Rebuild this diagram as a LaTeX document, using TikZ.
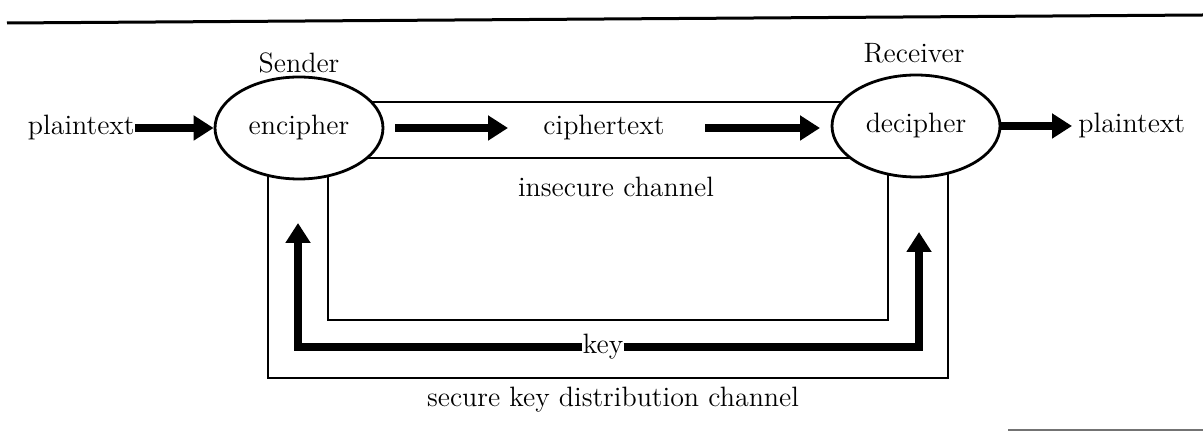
\documentclass[tikz,border=0pt]{standalone}
\usetikzlibrary{arrows.meta,shapes.geometric,backgrounds}
\begin{document}
\begin{tikzpicture}[x=0.5pt,y=-0.5pt,
  every node/.style={font=\fontsize{14}{16}\selectfont},
  lab/.style={inner sep=0pt},
  proc/.style={ellipse,draw,line width=1.4pt,fill=white,inner sep=0pt,minimum width=84pt,minimum height=51pt},
  wire/.style={line width=1.2pt},
  fat/.style={line width=3.8pt,-{Triangle[length=10pt,width=12pt]}},
  rule/.style={line width=1.5pt}]
\useasboundingbox (0,0) rectangle (1203,432);
\draw[rule] (7,23) -- (1203,15);
\draw[line width=1pt,black!55] (1008,430) -- (1203,430);

\node[proc] (enc) at (299,128) {encipher};
\node[proc] (dec) at (916,126) {decipher};
\node[lab] (send) at (299,63) {Sender};
\node[lab] (recv) at (914,53) {Receiver};
\node[lab,anchor=east] (pin) at (135,128) {plaintext};
\node[lab,anchor=west] (pout) at (1078,126) {plaintext};
\node[lab] (ct) at (604,128) {ciphertext};
\node[lab] (ins) at (616,187) {insecure channel};
\node[lab] (key) at (603,347) {key};
\node[lab] (sec) at (613,400) {secure key distribution channel};

\coordinate (a1s) at (395,128);
\coordinate (a1e) at (508,128);
\coordinate (a2s) at (705,128);
\coordinate (a2e) at (820,128);
\coordinate (kl) at (298,223);
\coordinate (kr) at (919,232);

\begin{scope}[on background layer]
\draw[wire] (enc.center |- 0,102) -- (dec.center |- 0,102);
\draw[wire] (enc.center |- 0,158) -- (dec.center |- 0,158);
\draw[wire] (enc.center -| 328,0) -- (328,320) -- (888,320) -- (dec.center -| 888,0);
\draw[wire] (enc.center -| 268,0) -- (268,378) -- (948,378) -- (dec.center -| 948,0);
\end{scope}

\draw[fat] (pin.east) -- (enc.west);
\draw[fat] (a1s) -- (a1e);
\draw[fat] (a2s) -- (a2e);
\draw[fat] (dec.east) -- ([xshift=-3pt]pout.west);
\draw[fat] (key.west) -| (kl);
\draw[fat] (key.east) -| (kr);
\end{tikzpicture}
\end{document}
